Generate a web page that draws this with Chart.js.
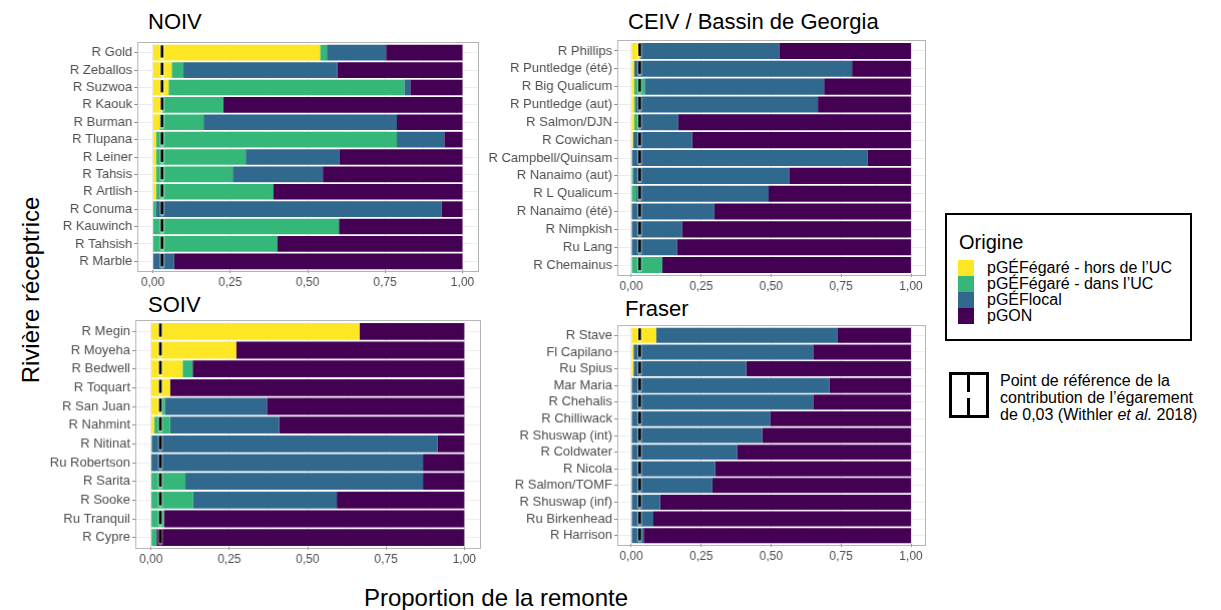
<!DOCTYPE html>
<html><head><meta charset="utf-8">
<script src="https://cdn.jsdelivr.net/npm/chart.js@4/dist/chart.umd.min.js"></script>
<style>
body{margin:0;width:1221px;height:610px;background:#fff;position:relative;overflow:hidden;font-family:"Liberation Sans",Arial,sans-serif;}
.panel{position:absolute;}
.ptitle{position:absolute;font-size:22px;color:#000;line-height:1;white-space:nowrap;}
.axt{position:absolute;font-size:24px;color:#000;white-space:nowrap;line-height:1;}
#legend{position:absolute;left:945px;top:213px;width:243px;height:124px;border:2px solid #000;box-sizing:content-box;}
#legend .lt{position:absolute;left:12px;top:16px;font-size:20px;}
#legend .it{position:absolute;left:11px;height:16px;font-size:16px;line-height:16px;white-space:nowrap;}
#legend .sw{display:inline-block;width:16px;height:16px;vertical-align:top;margin-right:13px;}
#ref{position:absolute;left:949px;top:372px;width:34px;height:40px;border:3px solid #000;}
#ref .v1{position:absolute;left:15px;top:0;width:3px;height:17px;background:#000;}
#ref .v2{position:absolute;left:15px;top:23px;width:3px;height:17px;background:#000;}
#reftxt{position:absolute;left:1000px;top:372px;font-size:16px;line-height:17px;white-space:nowrap;}
</style></head><body>
<div class="ptitle" style="left:148px;top:11px;">NOIV</div>
<div class="ptitle" style="left:628px;top:11px;">CEIV / Bassin de Georgia</div>
<div class="ptitle" style="left:148px;top:294px;">SOIV</div>
<div class="ptitle" style="left:625px;top:298px;">Fraser</div>
<div class="axt" style="left:31px;top:290px;transform:translate(-50%,-50%) rotate(-90deg);">Rivière réceptrice</div>
<div class="axt" style="left:496px;top:598px;transform:translate(-50%,-50%);">Proportion de la remonte</div>
<div id="legend">
 <div class="lt">Origine</div>
 <div class="it" style="top:45px;"><span class="sw" style="background:#FDE725"></span>pGÉFégaré - hors de l’UC</div>
 <div class="it" style="top:61px;"><span class="sw" style="background:#35B779"></span>pGÉFégaré - dans l’UC</div>
 <div class="it" style="top:77px;"><span class="sw" style="background:#31688E"></span>pGÉFlocal</div>
 <div class="it" style="top:93px;"><span class="sw" style="background:#440154"></span>pGON</div>
</div>
<div id="ref"><div class="v1"></div><div class="v2"></div></div>
<div id="reftxt">Point de référence de la<br>contribution de l’égarement<br>de 0,03 (Withler <i>et al.</i> 2018)</div>

<canvas id="c1" class="panel"></canvas>
<canvas id="c2" class="panel"></canvas>
<canvas id="c3" class="panel"></canvas>
<canvas id="c4" class="panel"></canvas>
<script>
// ---- data ----
const seriesNames = ['pGÉFégaré - hors de l’UC','pGÉFégaré - dans l’UC','pGÉFlocal','pGON'];
const xTickValues = [0, 0.25, 0.5, 0.75, 1];
const xMinorValues = [0.125, 0.375, 0.625, 0.875];
const refValue = 0.03;

const noivRivers = ['R Gold','R Zeballos','R Suzwoa','R Kaouk','R Burman','R Tlupana','R Leiner','R Tahsis','R Artlish','R Conuma','R Kauwinch','R Tahsish','R Marble'];
const noivHors  = [0.540,0.061,0.051,0.029,0.022,0.011,0.011,0.011,0.011,0,0,0,0];
const noivDans  = [0.022,0.038,0.761,0.199,0.142,0.777,0.289,0.247,0.379,0.011,0.601,0.403,0];
const noivLocal = [0.191,0.497,0.019,0,0.624,0.153,0.303,0.291,0,0.922,0,0,0.068];
const noivGon   = [0.247,0.404,0.169,0.772,0.212,0.059,0.397,0.451,0.610,0.067,0.399,0.597,0.932];

const ceivRivers = ['R Phillips','R Puntledge (été)','R Big Qualicum','R Puntledge (aut)','R Salmon/DJN','R Cowichan','R Campbell/Quinsam','R Nanaimo (aut)','R L Qualicum','R Nanaimo (été)','R Nimpkish','Ru Lang','R Chemainus'];
const ceivHors  = [0.030,0.010,0.011,0.011,0.011,0.006,0,0,0,0,0,0,0];
const ceivDans  = [0,0,0.037,0.004,0.015,0,0.003,0.006,0.018,0,0,0,0.111];
const ceivLocal = [0.500,0.779,0.641,0.652,0.142,0.211,0.842,0.558,0.473,0.297,0.181,0.163,0];
const ceivGon   = [0.470,0.211,0.311,0.333,0.832,0.783,0.155,0.436,0.509,0.703,0.819,0.837,0.889];

const soivRivers = ['R Megin','R Moyeha','R Bedwell','R Toquart','R San Juan','R Nahmint','R Nitinat','Ru Robertson','R Sarita','R Sooke','Ru Tranquil','R Cypre'];
const soivHors  = [0.666,0.272,0.101,0.061,0.034,0.011,0,0,0,0,0,0];
const soivDans  = [0,0,0.032,0,0.011,0.050,0.004,0,0.110,0.135,0.042,0.018];
const soivLocal = [0,0,0,0,0.325,0.348,0.911,0.868,0.758,0.458,0,0];
const soivGon   = [0.334,0.728,0.867,0.939,0.630,0.591,0.085,0.132,0.132,0.407,0.958,0.982];

const fraserRivers = ['R Stave','Fl Capilano','Ru Spius','Mar Maria','R Chehalis','R Chilliwack','R Shuswap (int)','R Coldwater','R Nicola','R Salmon/TOMF','R Shuswap (inf)','Ru Birkenhead','R Harrison'];
const fraserHors  = [0.089,0.008,0.008,0,0,0,0,0,0,0,0,0,0];
const fraserDans  = [0,0,0,0,0,0.002,0,0,0,0,0,0,0];
const fraserLocal = [0.649,0.642,0.403,0.708,0.650,0.494,0.468,0.378,0.300,0.290,0.103,0.079,0.044];
const fraserGon   = [0.262,0.350,0.589,0.292,0.350,0.504,0.532,0.622,0.700,0.710,0.897,0.921,0.956];

// ---- styling / layout ----
const colors = ['#FDE725','#35B779','#31688E','#440154'];
const YW = 135, PT = 10, PR = 25, XH = 30;

const borderPlugin = {
  id:'panelBorder',
  afterDraw(chart){
    const a = chart.chartArea, ctx = chart.ctx;
    ctx.save(); ctx.strokeStyle = '#b3b3b3'; ctx.lineWidth = 1;
    ctx.strokeRect(Math.round(a.left)+0.5, Math.round(a.top)-1.5, Math.round(a.right-a.left), Math.round(a.bottom-a.top)+3);
    ctx.restore();
  }
};
const refPlugin = {
  id:'refLine',
  afterDatasetsDraw(chart){
    const xs = chart.scales.x, ys = chart.scales.y, ctx = chart.ctx;
    const x = xs.getPixelForValue(refValue);
    const n = chart.data.labels.length;
    const band = (chart.chartArea.bottom - chart.chartArea.top)/n;
    ctx.save();
    for(let i=0;i<n;i++){
      const yc = ys.getPixelForValue(i);
      const y0 = yc - band*0.42, y1 = yc + band*0.28;
      ctx.strokeStyle = 'rgba(255,255,255,0.4)'; ctx.lineWidth = 5; ctx.lineCap='round';
      ctx.beginPath(); ctx.moveTo(x,y0); ctx.lineTo(x,y1); ctx.stroke();
      ctx.strokeStyle = '#000'; ctx.lineWidth = 2.6; ctx.lineCap='butt';
      ctx.beginPath(); ctx.moveTo(x,y0); ctx.lineTo(x,y1); ctx.stroke();
    }
    ctx.restore();
  }
};

function makePanel(id, rivers, hors, dans, local, gon, geom){
  const cv = document.getElementById(id);
  const w = YW + (geom.R - geom.L) + PR, h = PT + (geom.B - geom.T) + XH;
  cv.style.left = (geom.L - YW) + 'px';
  cv.style.top = (geom.T - PT) + 'px';
  cv.style.width = w + 'px'; cv.style.height = h + 'px';
  cv.width = w; cv.height = h;
  const vals = [hors, dans, local, gon];
  new Chart(cv, {
    type:'bar',
    data:{
      labels: rivers,
      datasets: vals.map((v,k)=>({label:seriesNames[k], data:v, backgroundColor:colors[k], borderWidth:0, barPercentage:0.9, categoryPercentage:1}))
    },
    options:{
      indexAxis:'y', responsive:false, animation:false,
      layout:{padding:{top:PT, right:PR, left:0, bottom:0}},
      plugins:{legend:{display:false}, tooltip:{enabled:false}},
      scales:{
        x:{
          stacked:true, min:-0.05, max:1.05,
          afterBuildTicks(s){ s.ticks = xTickValues.concat(xMinorValues).sort((a,b)=>a-b).map(v=>({value:v})); },
          afterFit(s){ s.height = XH; },
          ticks:{ autoSkip:false, maxRotation:0, padding:2, color:'#4d4d4d', font:{family:'Liberation Sans', size:12},
            callback(v){ return xTickValues.includes(v) ? v.toFixed(2).replace('.',',') : ''; } },
          grid:{ color(c){ return xTickValues.includes(c.tick && c.tick.value) ? '#e6e6e6' : '#f3f3f3'; },
                 tickColor(c){ return xTickValues.includes(c.tick && c.tick.value) ? '#888' : 'rgba(0,0,0,0)'; },
                 tickLength:3, drawTicks:true },
          border:{display:false}
        },
        y:{
          stacked:true,
          afterFit(s){ s.width = YW; },
          ticks:{ padding:2, color:'#4d4d4d', font:{family:'Liberation Sans', size:13}, autoSkip:false },
          grid:{ offset:false, color:'#ececec', tickColor:'#888', tickLength:3 },
          border:{display:false}
        }
      }
    },
    plugins:[borderPlugin, refPlugin]
  });
}

makePanel('c1', noivRivers, noivHors, noivDans, noivLocal, noivGon, {L:137.2, R:477.8, T:44, B:270.4});
makePanel('c2', ceivRivers, ceivHors, ceivDans, ceivLocal, ceivGon, {L:617, R:924.7, T:41.8, B:273.9});
makePanel('c3', soivRivers, soivHors, soivDans, soivLocal, soivGon, {L:135.4, R:479.6, T:322.4, B:546.6});
makePanel('c4', fraserRivers, fraserHors, fraserDans, fraserLocal, fraserGon, {L:617, R:924.7, T:327.4, B:544.3});
</script>
</body></html>
